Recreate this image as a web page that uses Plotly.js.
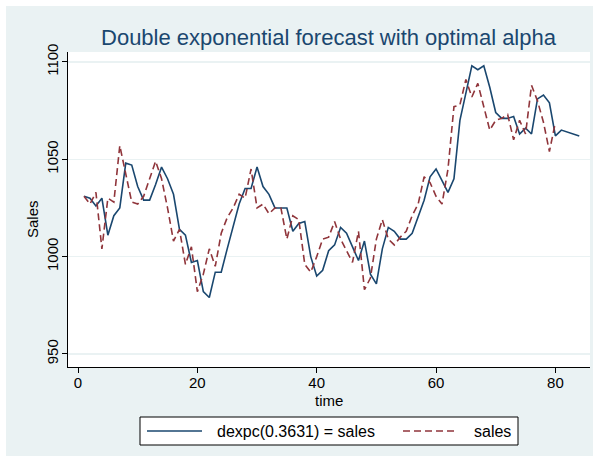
<!DOCTYPE html>
<html>
<head>
<meta charset="utf-8">
<script src="https://cdn.plot.ly/plotly-3.0.1.min.js"></script>
<style>html,body{margin:0;padding:0;background:#ffffff;}</style>
</head>
<body>
<div id="chart" style="width:599px;height:462px;"></div>
<script>
// ---- data ----
const time = [1,2,3,4,5,6,7,8,9,10,11,12,13,14,15,16,17,18,19,20,
  21,22,23,24,25,26,27,28,29,30,31,32,33,34,35,36,37,38,39,40,
  41,42,43,44,45,46,47,48,49,50,51,52,53,54,55,56,57,58,59,60,
  61,62,63,64,65,66,67,68,69,70,71,72,73,74,75,76,77,78,79,80,
  81,82,83,84];

const sales = [1031,1027,1033,1004,1030,1028,1057,1043,1028,1027,
  1031,1040,1049,1040,1025,1008,1014,996,1005,982,
  991,1004,995,1012,1020,1025,1032,1030,1045,1025,
  1027,1022,1025,1025,1009,1021,1019,996,992,1000,
  1009,1010,1018,1009,1003,997,1013,983,989,1009,
  1019,1009,1006,1010,1013,1021,1027,1041,1038,1031,
  1027,1045,1077,1078,1091,1082,1089,1077,1065,1070,
  1071,1073,1060,1070,1063,1088,1080,1069,1054,1069];

const dexpc = [1031,1030,1026,1030,1011,1021,1025,1048,1047,1036,
  1029,1029,1037,1046,1040,1032,1014,1011,997,998,
  982,979,992,992,1004,1016,1027,1035,1035,1046,
  1036,1032,1025,1025,1025,1013,1017,1018,1000,990,
  993,1003,1006,1015,1012,1005,998,1008,991,986,
  1004,1015,1013,1009,1009,1012,1021,1029,1041,1045,
  1039,1033,1040,1070,1084,1098,1096,1098,1087,1074,
  1071,1071,1072,1063,1066,1063,1081,1083,1079,1062,
  1065,1064,1063,1062];

const seriesNames = ["dexpc(0.3631) = sales", "sales"];
const xTickVals = [0, 20, 40, 60, 80];
const yTickVals = [950, 1000, 1050, 1100];
const titleText = "Double exponential forecast with optimal alpha";
const xTitle = "time";
const yTitle = "Sales";

// ---- styles ----
const navy = "#1a476f";
const maroon = "#90353b";
const bgBlue = "#eaf2f3";
const font = "Liberation Sans, Arial, Helvetica, sans-serif";
const dashPat = "7px,4px";

const traces = [
  {
    x: time, y: dexpc, name: seriesNames[0], type: "scatter", mode: "lines",
    line: {color: navy, width: 1.6}, hoverinfo: "skip"
  },
  {
    x: time.slice(0, sales.length), y: sales, name: seriesNames[1], type: "scatter", mode: "lines",
    line: {color: maroon, width: 1.6, dash: dashPat}, hoverinfo: "skip"
  }
];

// plot area in pixels: x 68..590, y 52..367
const L = 68, R = 590, T = 52, B = 367, W = 599, H = 462;
const px = v => (v - L) / (R - L);
const py = v => (B - v) / (B - T);

const legendY = 431;

const layout = {
  width: W, height: H,
  margin: {l: L, r: W - R, t: T, b: H - B, pad: 0},
  paper_bgcolor: "#ffffff",
  plot_bgcolor: "#ffffff",
  showlegend: false,
  font: {family: font, color: "#000000", size: 15},
  title: {
    text: titleText,
    font: {family: font, size: 22, color: navy},
    x: 328.5 / W, xref: "container", xanchor: "center",
    y: 1 - 37 / H, yref: "container", yanchor: "middle"
  },
  xaxis: {
    range: [-1.68, 85.8],
    tickmode: "array", tickvals: xTickVals,
    ticks: "outside", ticklen: 5, tickwidth: 1, tickcolor: "#000000",
    ticklabelstandoff: -3,
    showline: true, linecolor: "#000000", linewidth: 1,
    showgrid: false, zeroline: false,
    tickfont: {family: font, size: 15, color: "#000000"},
    fixedrange: true
  },
  yaxis: {
    range: [943.3, 1105.1],
    tickmode: "array", tickvals: yTickVals,
    tickangle: -90,
    ticks: "outside", ticklen: 5, tickwidth: 1, tickcolor: "#000000",
    ticklabelstandoff: -2,
    showline: true, linecolor: "#000000", linewidth: 1,
    showgrid: true, gridcolor: bgBlue, gridwidth: 1.5, zeroline: false,
    tickfont: {family: font, size: 15, color: "#000000"},
    fixedrange: true
  },
  shapes: [
    // outer Stata background
    {type: "rect", xref: "paper", yref: "paper", layer: "below",
     x0: px(6), x1: px(593), y0: py(456), y1: py(6),
     fillcolor: bgBlue, line: {width: 0}},
    // plot region
    {type: "rect", xref: "paper", yref: "paper", layer: "below",
     x0: 0, x1: 1, y0: 0, y1: 1, fillcolor: "#ffffff", line: {width: 0}},
    // legend box
    {type: "rect", xref: "paper", yref: "paper",
     x0: px(140), x1: px(518), y0: py(445), y1: py(417),
     fillcolor: "#ffffff", line: {color: "#000000", width: 1}},
    {type: "line", xref: "paper", yref: "paper",
     x0: px(147), x1: px(202), y0: py(legendY), y1: py(legendY),
     line: {color: navy, width: 1.6}},
    {type: "line", xref: "paper", yref: "paper",
     x0: px(403), x1: px(458), y0: py(legendY), y1: py(legendY),
     line: {color: maroon, width: 1.6, dash: dashPat}}
  ],
  annotations: [
    {text: seriesNames[0], xref: "paper", yref: "paper", x: px(215), y: py(legendY),
     xanchor: "left", yanchor: "middle", showarrow: false,
     font: {family: font, size: 16, color: "#000000"}},
    {text: seriesNames[1], xref: "paper", yref: "paper", x: px(472), y: py(legendY),
     xanchor: "left", yanchor: "middle", showarrow: false,
     font: {family: font, size: 16, color: "#000000"}},
    {text: xTitle, xref: "paper", yref: "paper", x: 0.5, y: py(400),
     xanchor: "center", yanchor: "middle", showarrow: false,
     font: {family: font, size: 15, color: "#000000"}},
    {text: yTitle, xref: "paper", yref: "paper", x: px(32), y: py(219),
     xanchor: "center", yanchor: "middle", showarrow: false, textangle: -90,
     font: {family: font, size: 15, color: "#000000"}}
  ]
};

Plotly.newPlot("chart", traces, layout, {displayModeBar: false, staticPlot: true});
</script>
</body>
</html>
